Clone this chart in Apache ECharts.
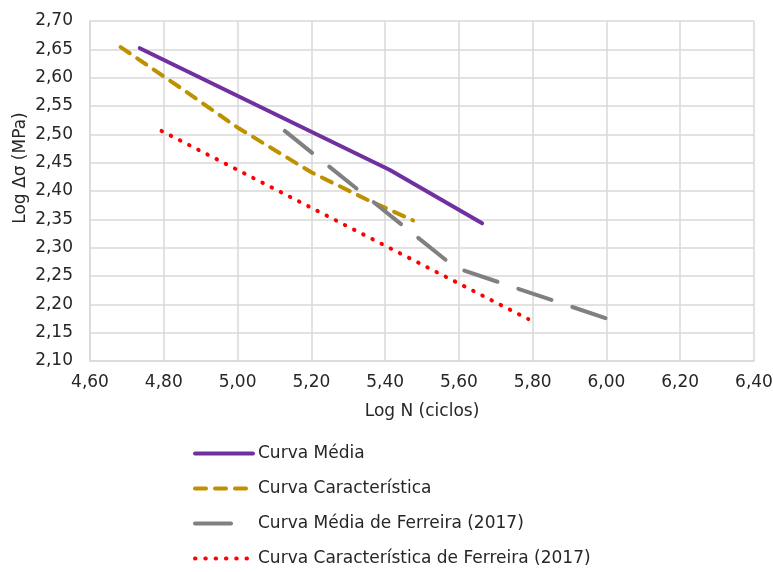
<!DOCTYPE html>
<html>
<head>
<meta charset="utf-8">
<script src="https://cdn.jsdelivr.net/npm/echarts@6/dist/echarts.min.js"></script>
<style>html,body{margin:0;padding:0;background:#fff;}#c{width:773px;height:572px;}</style>
</head>
<body>
<div id="c"></div>
<script>
const seriesNames = ['Curva Média', 'Curva Característica', 'Curva Média de Ferreira (2017)', 'Curva Característica de Ferreira (2017)'];
const curvaMedia = [[4.735, 2.652], [5.413, 2.437], [5.663, 2.343]];
const curvaCaracteristica = [[4.683, 2.654], [4.85, 2.58], [5.0, 2.512], [5.2, 2.433], [5.35, 2.385], [5.476, 2.348]];
const curvaMediaFerreira = [[5.128, 2.506], [5.59, 2.265], [6.0, 2.175]];
const curvaCaracFerreira = [[4.794, 2.506], [5.788, 2.174]];
const xTicks = {min: 4.6, max: 6.4, interval: 0.2};
const yTicks = {min: 2.1, max: 2.7, interval: 0.05};
const xName = 'Log N (ciclos)';
const yName = 'Log Δσ (MPa)';

const font = 'DejaVu Sans, Liberation Sans, sans-serif';
const txt = '#262626';
const fmt = v => v.toFixed(2).replace('.', ',');
const chart = echarts.init(document.getElementById('c'));
const base = {type: 'line', symbol: 'none', smooth: false, animation: false};
chart.setOption({
  animation: false,
  grid: {left: 90, right: 19, top: 21, bottom: 211, containLabel: false, outerBoundsMode: 'none'},
  xAxis: {
    type: 'value', min: xTicks.min, max: xTicks.max, interval: xTicks.interval,
    name: xName, nameLocation: 'middle', nameGap: 42,
    nameTextStyle: {fontFamily: font, fontSize: 17, color: txt},
    axisLine: {show: true, lineStyle: {color: '#d9d9d9', width: 1.5}},
    axisTick: {show: false},
    axisLabel: {formatter: fmt, fontFamily: font, fontSize: 17, color: txt, margin: 13},
    splitLine: {show: true, lineStyle: {color: '#d9d9d9', width: 1.5}}
  },
  yAxis: {
    type: 'value', min: yTicks.min, max: yTicks.max, interval: yTicks.interval,
    axisLine: {show: true, lineStyle: {color: '#d9d9d9', width: 1.5}},
    axisTick: {show: false},
    axisLabel: {formatter: fmt, fontFamily: font, fontSize: 17, color: txt, margin: 17},
    splitLine: {show: true, lineStyle: {color: '#d9d9d9', width: 1.5}}
  },
  graphic: [{
    type: 'text', x: 21, y: 168, rotation: Math.PI / 2,
    style: {text: yName, font: '17px ' + font, fill: txt, align: 'center', verticalAlign: 'middle'}
  }],
  legend: {
    orient: 'vertical', left: 193, top: 445, padding: 0, height: 130,
    itemWidth: 58, itemHeight: 17, itemGap: 18,
    textStyle: {fontFamily: font, fontSize: 17, color: txt},
    itemStyle: {opacity: 0},
    lineStyle: {width: 'inherit'},
    data: [
      {name: seriesNames[0]},
      {name: seriesNames[1]},
      {name: seriesNames[2], lineStyle: {type: [36, 40]}},
      {name: seriesNames[3]}
    ]
  },
  series: [
    Object.assign({}, base, {name: seriesNames[0], data: curvaMedia, color: '#7030A0',
      lineStyle: {color: '#7030A0', width: 4, cap: 'round'}}),
    Object.assign({}, base, {name: seriesNames[1], data: curvaCaracteristica, color: '#BF9000',
      lineStyle: {color: '#BF9000', width: 4, type: [11, 9], cap: 'round'}}),
    Object.assign({}, base, {name: seriesNames[2], data: curvaMediaFerreira, color: '#808080',
      lineStyle: {color: '#808080', width: 4, type: [35, 22], cap: 'round'}}),
    Object.assign({}, base, {name: seriesNames[3], data: curvaCaracFerreira, color: '#FF0000',
      lineStyle: {color: '#FF0000', width: 4, type: [0.5, 9.8], cap: 'round'}})
  ]
});
</script>
</body>
</html>
